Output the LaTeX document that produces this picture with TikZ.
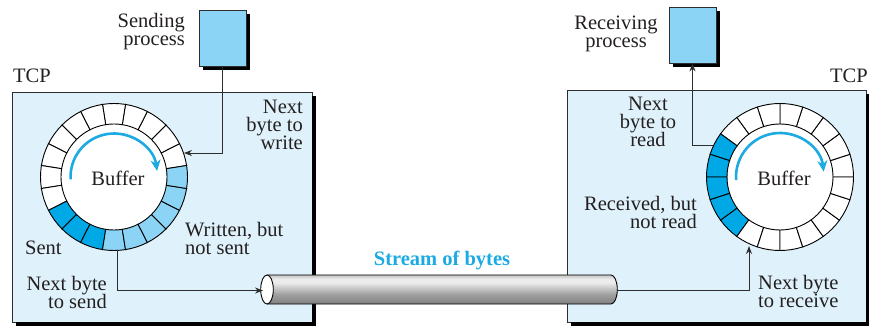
\documentclass[tikz,border=0pt]{standalone}
\usepackage{fontspec}
\setmainfont{Liberation Serif}
\usetikzlibrary{arrows.meta,calc}
\lineskiplimit=-20pt
\definecolor{boxbg}{RGB}{223,241,250}
\definecolor{procbg}{RGB}{140,212,245}
\definecolor{lightseg}{RGB}{140,212,245}
\definecolor{darkseg}{RGB}{0,169,230}
\definecolor{arcblue}{RGB}{27,170,226}
\definecolor{lineg}{RGB}{45,45,45}
\definecolor{txt}{RGB}{35,31,32}
\definecolor{cyla}{RGB}{128,128,128}
\definecolor{cylb}{RGB}{160,160,160}
\definecolor{cylc}{RGB}{236,236,236}
\definecolor{cyld}{RGB}{196,196,196}
\pgfdeclareverticalshading{cylshade}{100bp}{color(0bp)=(cyla);color(25bp)=(cyla);color(42bp)=(cylb);color(62bp)=(cylc);color(68bp)=(cylc);color(75bp)=(cyld);color(100bp)=(cyld)}
\tikzset{
  lbl/.style={font=\fontsize{20.5}{18}\selectfont, inner sep=0pt, text=txt},
  tcpbox/.style={draw=lineg, line width=0.8pt, fill=boxbg, inner sep=0pt},
  procbox/.style={draw=lineg, line width=0.8pt, fill=procbg, inner sep=0pt},
  conn/.style={draw=lineg, line width=0.9pt, -{Stealth[length=8pt,width=6pt]}},
  bluearc/.style={draw=arcblue, line width=2.6pt, -{Stealth[length=11pt,width=10pt]}},
  seg/.style={draw=black, line width=0.9pt}
}
\begin{document}
\begin{tikzpicture}[x=1pt,y=-1pt]
\useasboundingbox (0,0) rectangle (869,328);
% TCP boxes
\node[tcpbox, minimum width=300, minimum height=230] (ltcp) at (162,207) {};
\node[tcpbox, minimum width=299, minimum height=232] (rtcp) at (716.5,206) {};
\fill[black] ($(ltcp.south west)+(4,0)$) rectangle ($(ltcp.south east)+(4,4)$);
\fill[black] ($(ltcp.north east)+(0,4)$) rectangle ($(ltcp.south east)+(4,4)$);
\fill[black] ($(rtcp.south west)+(4,0)$) rectangle ($(rtcp.south east)+(4,4)$);
\fill[black] ($(rtcp.north east)+(0,4)$) rectangle ($(rtcp.south east)+(4,4)$);
% process boxes
\fill[black] (203,14) rectangle (250,70);
\node[procbox, minimum width=47, minimum height=56] (sendp) at (222.5,38) {};
\fill[black] (673,11) rectangle (720,67);
\node[procbox, minimum width=47, minimum height=56] (recvp) at (692.5,35) {};
% left ring
\coordinate (LC) at (114,177);
\begin{scope}[shift={(LC)}, yscale=-1]
  \fill[white] (0,0) circle[radius=53];
  \foreach \k in {0,...,19}{
    \pgfmathsetmacro\a{9+18*\k}
    \pgfmathsetmacro\b{27+18*\k}
    \ifnum\k>13 \def\segc{lightseg}\else\ifnum\k>10 \def\segc{darkseg}\else\def\segc{white}\fi\fi
    \filldraw[seg, fill=\segc] (\a:53) arc[start angle=\a, end angle=\b, radius=53] -- (\b:73.5) arc[start angle=\b, end angle=\a, radius=73.5] -- cycle;
  }
  \draw[bluearc] (183:43.5) arc[start angle=183, end angle=8, radius=43.5];
\end{scope}
% right ring
\coordinate (RC) at (780,177);
\begin{scope}[shift={(RC)}, yscale=-1]
  \fill[white] (0,0) circle[radius=53];
  \foreach \k in {0,...,19}{
    \pgfmathsetmacro\a{18*\k}
    \pgfmathsetmacro\b{18+18*\k}
    \ifnum\k>12 \def\segc{white}\else\ifnum\k>7 \def\segc{darkseg}\else\def\segc{white}\fi\fi
    \filldraw[seg, fill=\segc] (\a:53) arc[start angle=\a, end angle=\b, radius=53] -- (\b:73.5) arc[start angle=\b, end angle=\a, radius=73.5] -- cycle;
  }
  \draw[bluearc] (184:44) arc[start angle=184, end angle=7, radius=44];
\end{scope}
% texts
\node[lbl, anchor=north east, align=right] (tsend) at (185,13) {Sending\\process};
\node[lbl, anchor=north west] (tlt) at (13,69) {TCP};
\node[lbl, anchor=north east] (trt) at (868,69) {TCP};
\node[lbl, anchor=north east, align=right] (twrite) at (303,100) {Next\\byte to\\write};
\node[lbl] (tbufl) at (118,178) {Buffer};
\node[lbl] (tbufr) at (784,178) {Buffer};
\node[lbl, anchor=north west] (tsent) at (25,241) {Sent};
\node[lbl, anchor=north west, align=left] (twns) at (185,222) {Written, but\\not sent};
\node[lbl, anchor=north east, align=right] (tnbs) at (107,276) {Next byte\\to send};
\node[lbl, anchor=north, font=\fontsize{20.5}{18}\selectfont\bfseries, text=arcblue] (tstream) at (442,251) {Stream of bytes};
\node[lbl, anchor=north, align=center] (trecv) at (616,16) {Receiving\\process};
\node[lbl, anchor=north, align=center] (tread) at (648,97) {Next\\byte to\\read};
\node[lbl, anchor=north east, align=right] (trnr) at (697,196) {Received, but\\not read};
\node[lbl, anchor=north west, align=left] (tnbr) at (758,275) {Next byte\\to receive};
% connectors (ring side)
\coordinate (wpt) at (184,153);
\draw[conn] (sendp.south) |- (wpt);
\coordinate (rpt) at (713,145.5);
\draw[conn] (rpt) -| (recvp.south);
\coordinate (cylR) at (617,290.5);
\coordinate (vpt) at (749,246);
\draw[conn] (cylR) -| (vpt);
% cylinder
\shade[shading=cylshade] (267,275) -- (611,275) arc[start angle=-90, end angle=90, x radius=6.3, y radius=14.5] -- (267,304) -- cycle;
\draw[line width=0.9pt, black] (267,275) -- (611,275) arc[start angle=-90, end angle=90, x radius=6.3, y radius=14.5] -- (267,304);
\draw[line width=0.9pt, black, fill=white] (267,289.5) ellipse[x radius=6.3, y radius=14.5];
\coordinate (cylL) at (263,290.5);
\coordinate (spt) at (117,250.5);
\draw[conn] (spt) |- (cylL);
\end{tikzpicture}
\end{document}
